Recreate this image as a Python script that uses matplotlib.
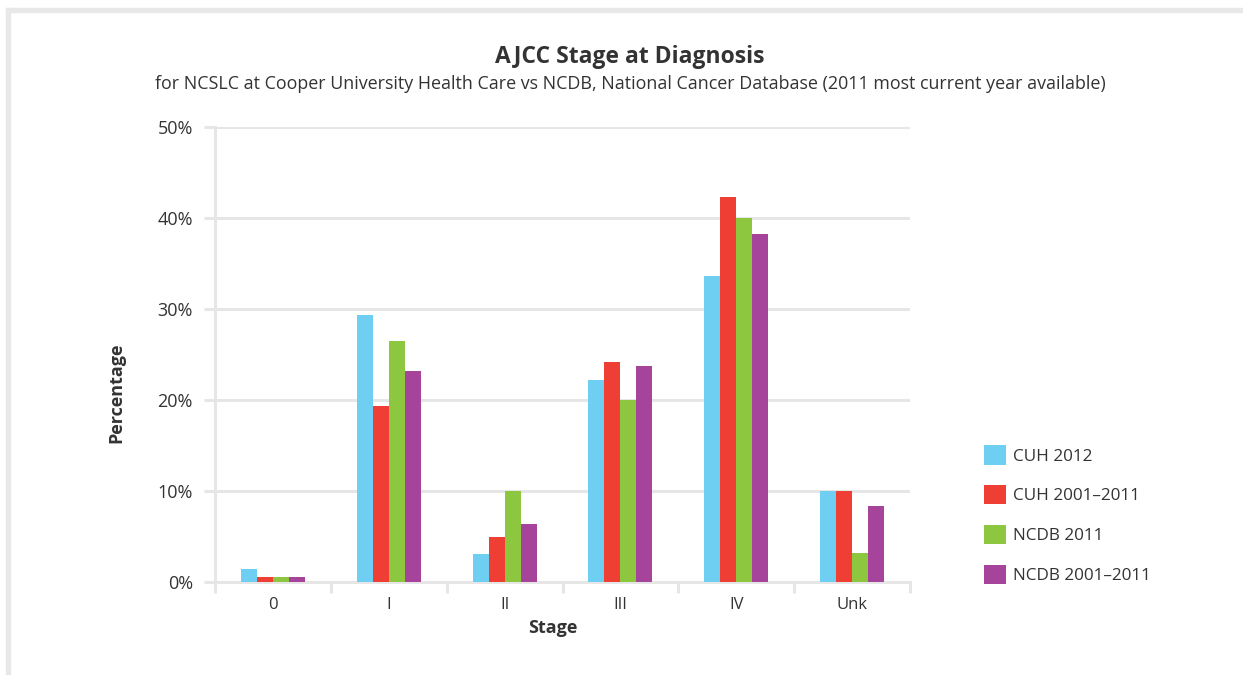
import matplotlib
matplotlib.use("Agg")
import matplotlib.pyplot as plt
import numpy as np
from matplotlib.patches import Rectangle

stages = ["0", "I", "II", "III", "IV", "Unk"]
series_names = ["CUH 2012", "CUH 2001\u20132011", "NCDB 2011", "NCDB 2001\u20132011"]
cuh_2012 = [1.4, 29.3, 3.1, 22.2, 33.6, 10.0]
cuh_2001_2011 = [0.6, 19.3, 4.9, 24.2, 42.3, 10.0]
ncdb_2011 = [0.6, 26.5, 10.0, 20.0, 40.0, 3.2]
ncdb_2001_2011 = [0.6, 23.2, 6.4, 23.7, 38.2, 8.4]
colors = ["#6ECFF3", "#EF3E33", "#8DC63F", "#A5449A"]
y_ticks = [0, 10, 20, 30, 40, 50]

plt.rcParams["font.family"] = ["Open Sans", "DejaVu Sans"]
text_color = "#333333"
grid_color = "#E6E6E6"

W, H = 1243, 675
fig = plt.figure(figsize=(W / 100, H / 100), dpi=100)
fig.patch.set_facecolor("white")

# outer frame (top and left edges)
fig.patches.append(Rectangle((6 / W, 1 - 12 / H), 1 - 6 / W, 4 / H,
                             transform=fig.transFigure, color="#E8E8E8", zorder=0))
fig.patches.append(Rectangle((6 / W, 0), 4 / W, 1 - 8 / H,
                             transform=fig.transFigure, color="#E8E8E8", zorder=0))

ax = fig.add_axes([215 / W, 1 - 582 / H, (910 - 215) / W, (582 - 127) / H])

data = [cuh_2012, cuh_2001_2011, ncdb_2011, ncdb_2001_2011]
x = np.arange(len(stages))
bw = 0.138
for i, (vals, c, name) in enumerate(zip(data, colors, series_names)):
    ax.bar(x + (i - 1.5) * bw, vals, width=bw, color=c, label=name, zorder=3,
           linewidth=0)

ax.set_xlim(-0.5, len(stages) - 0.5)
ax.set_ylim(0, 50)
ax.set_yticks(y_ticks)
ax.set_yticklabels([f"{v}%" for v in y_ticks])
ax.set_xticks(x)
ax.set_xticklabels(stages)
ax.set_xticks(np.arange(len(stages) + 1) - 0.5, minor=True)

ax.grid(axis="y", color=grid_color, linewidth=2.2, zorder=0)
ax.tick_params(axis="y", which="major", length=8, width=2.2, color=grid_color,
               labelsize=13, labelcolor=text_color, pad=8)
ax.tick_params(axis="x", which="major", length=0, labelsize=12,
               labelcolor=text_color, pad=11)
ax.tick_params(axis="x", which="minor", length=8, width=2.2, color=grid_color)

for s in ["top", "right"]:
    ax.spines[s].set_visible(False)
ax.spines["left"].set_color(grid_color)
ax.spines["left"].set_linewidth(2.2)
ax.spines["bottom"].set_color(grid_color)
ax.spines["bottom"].set_linewidth(2.2)

fig.text(553 / W, 1 - 628 / H, "Stage", ha="center", va="center",
         fontsize=13, fontweight="bold", color=text_color)
fig.text(116 / W, 1 - 393 / H, "Percentage", ha="center", va="center",
         rotation=90, fontsize=13, fontweight="bold", color=text_color)

fig.text(630 / W, 1 - 57 / H, "AJCC Stage at Diagnosis", ha="center", va="center",
         fontsize=16.5, fontweight="bold", color=text_color)
fig.text(630 / W, 1 - 84 / H,
         "for NCSLC at Cooper University Health Care vs NCDB, National Cancer Database (2011 most current year available)",
         ha="center", va="center", fontsize=12.9, color=text_color)

leg = ax.legend(loc="upper left", bbox_to_anchor=(969 / W, 1 - 430 / H),
                bbox_transform=fig.transFigure, frameon=False, fontsize=12.3,
                handlelength=1.25, handleheight=1.35, handletextpad=0.45,
                labelspacing=1.2, labelcolor=text_color)

fig.savefig("out.png", dpi=100, facecolor="white")
